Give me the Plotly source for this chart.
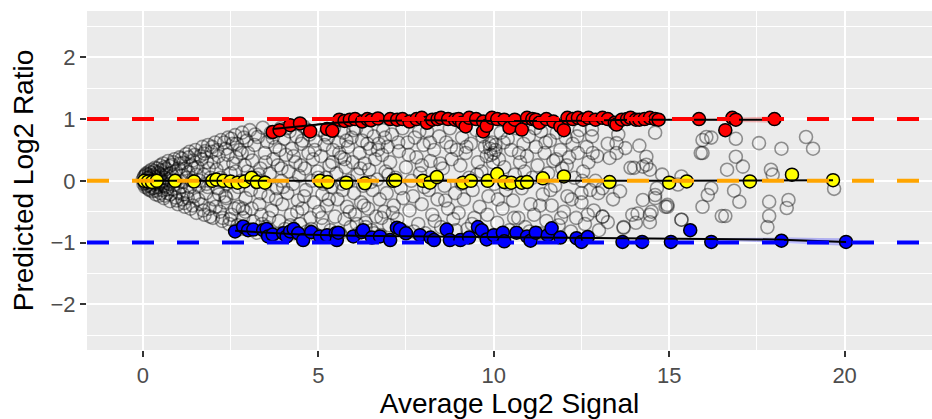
import plotly.graph_objects as go

# ---------------- data ----------------
# gray open circles (all features), grouped by signal range
gray_x_low = [0.00,0.02,0.05,0.07,0.10,0.12,0.14,0.16,0.18,0.20,0.22,0.25,0.27,0.30,0.32,0.35,0.37,0.40,0.42,0.45,
              0.47,0.50,0.52,0.55,0.58,0.60,0.63,0.66,0.70,0.72,0.75,0.78,0.80,0.83,0.86,0.90,0.93,0.96,1.00,1.02,
              1.05,1.08,1.10,1.13,1.16,1.20,1.23,1.26,1.30,1.33,1.36,1.40,1.43,1.46,1.50,1.53,1.56,1.60,1.63,1.66,
              1.70,1.73,1.76,1.80,1.83,1.86,1.90,1.93,1.96,2.00,2.03,2.06,2.10,2.13,2.16,2.20,2.23,2.26,2.30,2.33,
              2.36,2.40,2.43,2.46,2.50,2.53,2.56,2.60,2.63,2.66,2.70,2.73,2.76,2.80,2.83,2.86,2.90,2.93,2.96,3.00,
              3.00,0.15,0.30,0.45,0.65,0.85,1.25,1.45,1.85,2.25,2.65,0.08,0.55,1.15,1.75,2.35,2.85]
gray_y_low = [0.02,-0.05,0.08,-0.10,0.12,-0.02,0.05,-0.13,0.15,-0.08,0.00,0.18,-0.17,0.09,-0.11,0.21,-0.22,0.03,0.14,-0.06,
              -0.24,0.25,0.10,-0.15,0.28,-0.28,0.05,0.19,-0.20,0.32,-0.05,-0.33,0.12,0.26,-0.14,0.35,-0.27,0.00,-0.38,0.20,
              0.38,-0.10,0.08,-0.30,0.29,-0.42,0.43,-0.18,0.14,0.47,-0.45,0.00,0.33,-0.25,0.50,-0.52,0.22,-0.08,0.40,-0.38,
              0.55,0.10,-0.55,-0.20,0.30,0.58,-0.45,0.05,0.47,-0.60,-0.30,0.62,0.18,-0.12,0.40,-0.50,0.66,-0.65,0.28,-0.35,
              0.52,-0.05,0.70,-0.70,0.12,-0.55,0.60,-0.20,0.74,0.38,-0.72,-0.42,0.50,0.00,0.78,-0.60,0.25,-0.28,0.65,-0.78,
              0.45,0.04,-0.02,0.07,-0.10,0.08,0.05,0.20,-0.10,0.00,0.15,-0.04,-0.02,-0.22,0.44,-0.25,-0.45]

gray_x_low2 = [0.03,0.06,0.09,0.11,0.13,0.17,0.19,0.21,0.23,0.24,0.28,0.29,0.33,0.34,0.36,0.38,0.41,0.43,0.46,0.48,
               0.51,0.53,0.56,0.59,0.61,0.64,0.67,0.69,0.73,0.76,0.79,0.82,0.87,0.89,0.94,0.97,1.03,1.07,1.11,1.14,
               1.18,1.22,1.28,1.31,1.35,1.38,1.42,1.48,1.52,1.58,1.62,1.68,1.72,1.78,1.82,1.88,1.92,1.98,2.02,2.08,
               2.12,2.18,2.22,2.28,2.32,2.38,2.42,2.48,2.52,2.58,2.62,2.68,2.72,2.78,2.82,2.88,2.92,2.98]
gray_y_low2 = [0.06,-0.03,0.10,-0.08,0.00,0.10,-0.15,0.07,-0.05,0.13,0.00,-0.12,0.16,-0.04,0.06,-0.16,0.20,-0.10,0.12,-0.02,
               -0.20,0.17,0.00,-0.08,0.22,-0.24,0.10,-0.14,0.02,0.24,-0.22,0.00,0.30,-0.06,0.16,-0.32,-0.20,0.28,0.36,-0.02,
               -0.36,0.20,-0.28,0.38,-0.10,0.25,-0.40,0.42,0.10,-0.30,0.00,0.35,-0.48,0.48,-0.05,0.20,-0.58,0.55,0.30,-0.42,
               0.50,-0.22,0.05,-0.60,0.62,-0.28,0.42,-0.62,0.68,0.28,-0.45,0.60,-0.10,-0.78,0.45,0.70,-0.50,0.15]

gray_x_mid = [3.05,3.08,3.12,3.15,3.18,3.22,3.25,3.28,3.32,3.35,3.38,3.42,3.45,3.48,3.52,3.55,3.58,3.62,3.65,3.68,
              3.72,3.75,3.78,3.82,3.85,3.88,3.92,3.95,3.98,4.02,4.05,4.08,4.12,4.15,4.18,4.22,4.25,4.28,4.32,4.35,
              4.38,4.42,4.45,4.48,4.52,4.55,4.58,4.62,4.65,4.68,4.72,4.75,4.78,4.82,4.85,4.88,4.92,4.95,4.98,5.02,
              5.05,5.08,5.12,5.15,5.18,5.22,5.25,5.28,5.32,5.35,5.38,5.42,5.45,5.48,5.52,5.55,5.58,5.62,5.65,5.68,
              5.72,5.75,5.78,5.82,5.85,5.88,5.92,5.95,5.98,6.02,6.05,6.08,6.12,6.15,6.18,6.22,6.25,6.28,6.32,6.35,
              6.38,6.42,6.45,6.48,6.52,6.55,6.58,6.62,6.65,6.68,6.72,6.75,6.78,6.82,6.85,6.88,6.92,6.95,6.98,7.02,
              7.05,7.10,7.15,7.20,7.25,7.30,7.35,7.40,7.45,7.50,7.55,7.60,7.65,7.70,7.75,7.80,7.85,7.90,7.95,8.00,
              8.05,8.10,8.15,8.20,8.25,8.30,8.35,8.40,8.45,8.50,8.55,8.60,8.65,8.70,8.75,8.80,8.85,8.90,8.95]
gray_y_mid = [0.82,-0.15,0.33,-0.66,0.58,0.05,-0.84,0.71,-0.38,0.20,-0.55,0.86,-0.02,0.45,-0.75,0.63,-0.25,0.12,0.78,-0.48,
              0.35,-0.86,0.55,-0.12,0.25,-0.65,0.85,0.00,-0.38,0.68,-0.78,0.42,-0.20,0.15,0.80,-0.55,0.52,-0.05,-0.85,0.30,
              0.72,-0.32,0.08,-0.70,0.60,-0.45,0.88,0.20,-0.15,-0.82,0.45,0.75,-0.60,0.00,0.35,-0.35,0.65,-0.88,0.15,-0.50,
              0.82,0.40,-0.22,-0.72,0.58,0.05,-0.40,0.70,0.25,-0.80,-0.10,0.50,0.85,-0.58,0.12,-0.30,0.62,-0.85,0.38,-0.05,
              0.78,-0.62,0.22,-0.42,0.55,0.00,-0.75,0.70,0.30,-0.20,-0.55,0.85,0.10,-0.85,0.45,-0.35,0.65,-0.08,0.28,-0.68,
              0.80,-0.45,0.18,0.52,-0.80,-0.15,0.72,0.35,-0.58,0.02,0.60,-0.30,-0.88,0.42,0.82,-0.50,0.15,-0.20,0.55,-0.72,
              0.30,0.75,-0.40,0.05,-0.62,0.48,-0.12,0.85,-0.82,0.22,0.62,-0.48,0.00,-0.25,0.70,0.38,-0.70,0.12,-0.38,0.58,
              -0.85,0.80,-0.15,0.32,-0.55,0.50,0.05,-0.30,0.72,-0.75,0.20,-0.08,0.62,-0.45,0.85,0.35,-0.62,-0.20,0.50]

gray_x_mid2 = [3.10,3.20,3.30,3.40,3.50,3.60,3.70,3.80,3.90,4.00,4.10,4.20,4.30,4.40,4.50,4.60,4.70,4.80,4.90,5.00,
               5.10,5.20,5.30,5.40,5.50,5.60,5.70,5.80,5.90,6.00,6.10,6.20,6.30,6.40,6.50,6.60,6.70,6.80,6.90,7.00,
               7.12,7.28,7.42,7.58,7.72,7.88,8.02,8.18,8.32,8.48,8.62,8.78,8.92,3.35,3.95,4.55,5.15,5.75,6.35,7.95]
gray_y_mid2 = [-0.45,0.75,0.10,-0.70,0.30,-0.60,0.70,-0.30,0.50,-0.10,0.85,-0.72,0.40,-0.50,0.25,-0.25,0.82,-0.78,0.50,0.05,
               -0.60,0.75,-0.30,0.30,-0.88,0.45,-0.15,0.65,-0.50,0.82,-0.70,0.20,-0.40,0.60,-0.02,-0.85,0.50,-0.60,0.70,0.10,
               -0.52,0.62,-0.28,0.42,-0.82,0.80,-0.10,0.62,-0.65,0.28,-0.32,0.55,-0.80,-0.20,0.20,0.65,-0.05,0.35,-0.75,0.25]

gray_x_high = [9.00,9.05,9.10,9.15,9.20,9.25,9.30,9.35,9.40,9.45,9.50,9.55,9.60,9.65,9.70,9.75,9.80,9.85,9.90,9.95,
               10.00,10.02,10.05,10.10,10.15,10.20,10.25,10.30,10.35,10.40,10.45,10.50,10.55,10.60,10.65,10.70,10.75,10.80,10.85,10.90,
               10.95,11.00,11.05,11.10,11.15,11.20,11.25,11.30,11.35,11.40,11.45,11.50,11.55,11.60,11.65,11.70,11.75,11.80,11.85,11.90,
               11.95,12.00,12.05,12.10,12.15,12.20,12.25,12.30,12.35,12.40,12.45,12.50,12.55,12.60,12.65,12.70,12.75,12.80,12.85,12.90,
               12.95,13.00,9.08,9.22,9.38,9.52,9.68,9.82,9.98,10.12,10.28,10.42,10.58,10.72,10.88,11.02,11.18,11.32,11.48,11.62,
               11.78,11.92,12.08,12.22,12.38,12.52,12.68,12.82,12.98,9.92,10.05,9.88]
gray_y_high = [-0.52,0.25,0.70,-0.30,0.45,-0.78,0.05,0.60,-0.15,-0.60,0.82,0.30,-0.42,0.15,-0.85,0.55,0.40,-0.25,0.52,0.62,
               0.45,-0.05,0.58,-0.68,0.35,0.78,-0.45,0.22,-0.15,0.68,-0.80,0.50,-0.32,0.10,0.85,-0.60,0.30,-0.12,0.60,-0.75,
               0.40,0.72,-0.38,0.05,-0.55,0.55,0.25,-0.85,0.80,-0.22,0.45,-0.65,0.12,0.65,-0.40,0.32,-0.08,0.78,-0.72,0.50,
               0.20,-0.50,0.70,-0.25,0.38,-0.82,0.60,0.05,-0.60,0.45,0.82,-0.35,0.15,-0.70,0.55,0.30,-0.15,0.72,-0.48,0.00,
               0.40,-0.80,-0.05,0.55,-0.70,0.10,0.72,-0.55,0.30,-0.30,0.62,-0.05,-0.60,0.45,0.15,-0.82,0.85,-0.40,0.62,-0.15,
               0.35,-0.60,0.25,-0.30,0.72,0.00,-0.55,0.45,-0.20,0.42,0.50,0.60]

gray_x_tail = [13.10,13.25,13.40,13.50,13.55,13.60,13.70,13.90,14.05,14.10,14.15,14.25,14.25,14.35,14.45,14.50,14.60,14.60,14.80,14.90,
               14.95,15.25,15.35,15.35,15.90,15.95,15.95,16.10,16.20,16.20,16.50,16.65,16.60,16.85,16.90,16.90,17.00,17.10,17.56,17.80,
               17.85,17.85,17.90,17.95,18.20,18.35,18.40,18.90,19.10,19.70,12.80,13.50,13.30,13.75,14.35,14.45,16.06,15.95,12.50,13.10,
               14.00,14.60,14.65,14.95,15.35,13.10,13.25,13.70,14.45,13.95]
gray_y_tail = [-0.58,0.60,-0.30,0.45,0.75,-0.17,-0.75,0.21,-0.68,-0.53,0.57,0.23,-0.31,0.39,-0.55,-0.50,0.78,-0.23,0.10,-0.42,
               -0.39,-0.06,0.07,-0.63,0.45,0.66,-0.42,-0.23,0.70,-0.12,-0.57,0.18,-0.57,-0.16,0.68,0.39,-0.34,0.23,0.61,-0.75,
               -0.34,-0.57,0.18,0.10,0.52,-0.44,-0.31,0.71,0.52,-0.13,0.83,0.61,0.37,0.53,0.26,0.18,0.71,0.45,-0.20,-0.12,
               0.21,-0.28,-0.12,-0.42,-0.63,-0.58,-0.67,-0.76,-0.67,-0.55]

# significant features
red_x = [3.70,3.90,4.20,4.48,4.77,5.25,5.40,5.60,5.75,5.90,6.05,6.25,6.40,6.50,6.70,7.05,7.25,7.40,7.60,7.80,
         7.95,8.10,8.25,8.40,8.50,8.70,8.90,9.00,9.10,9.20,9.30,9.50,9.70,9.70,9.80,9.95,10.10,10.30,10.45,10.60,
         10.80,10.95,11.10,11.20,11.30,11.50,11.70,11.90,12.00,12.10,12.25,12.40,12.55,12.70,12.90,13.10,13.25,13.45,13.50,13.65,
         13.80,13.90,14.05,14.15,14.30,14.45,14.60,14.70,15.85,16.60,16.80,16.90,18.00]
red_y = [0.79,0.82,0.90,0.93,0.80,0.84,0.81,0.99,0.97,0.99,1.00,0.96,1.00,0.98,1.01,1.00,0.99,1.00,0.96,1.00,
         1.02,0.94,0.99,1.00,1.02,1.00,0.99,1.00,0.94,0.88,1.02,1.00,0.96,0.80,0.89,1.02,1.00,0.99,0.86,0.99,
         0.83,1.02,1.00,0.99,0.94,1.00,0.96,0.88,0.82,1.02,1.00,1.02,0.99,1.02,0.99,1.02,1.00,0.94,0.91,0.99,
         1.00,1.02,0.99,0.99,1.00,1.02,1.00,0.99,1.00,0.82,1.02,0.99,1.00]

yellow_x = [0.04,0.15,0.26,0.40,0.92,1.46,1.98,2.10,2.30,2.50,2.70,2.90,3.10,3.25,3.48,5.05,5.27,5.80,6.33,7.13,
            7.20,7.98,8.18,8.38,9.12,9.35,9.83,10.10,10.30,10.50,10.80,10.95,11.40,12.00,13.30,15.00,15.50,17.30,18.50,19.67]
yellow_y = [0.00,-0.01,-0.02,0.00,0.00,-0.01,0.00,0.02,0.00,-0.01,-0.03,-0.01,0.05,-0.02,-0.03,0.00,-0.02,-0.03,-0.04,0.00,
            0.01,0.00,-0.03,0.06,-0.03,0.00,0.00,0.11,-0.02,-0.03,-0.03,-0.02,0.04,0.07,-0.02,-0.03,-0.01,-0.01,0.10,0.01]

blue_x = [2.63,2.86,3.00,3.15,3.43,3.53,3.57,3.70,4.00,4.10,4.20,4.30,4.43,4.57,4.80,5.05,5.25,5.50,5.53,5.57,
          6.00,6.24,6.28,6.53,6.76,7.05,7.24,7.33,7.50,7.90,8.20,8.30,8.66,8.75,9.05,9.30,9.55,9.66,9.80,10.00,
          10.26,10.30,10.65,10.95,11.05,11.20,11.54,11.65,11.90,12.36,12.50,12.68,13.67,14.23,15.05,15.60,16.20,18.20,20.04]
blue_y = [-0.82,-0.74,-0.80,-0.79,-0.80,-0.78,-0.90,-0.87,-0.85,-0.90,-0.82,-0.78,-0.85,-0.96,-0.83,-0.90,-0.88,-0.85,-0.96,-0.84,
          -0.90,-0.83,-0.80,-0.92,-0.90,-0.96,-0.76,-0.78,-0.85,-0.88,-0.92,-0.96,-0.79,-0.96,-0.96,-0.92,-0.75,-0.80,-0.95,-0.88,
          -0.84,-0.98,-0.84,-0.90,-0.97,-0.84,-0.88,-0.77,-0.92,-0.93,-0.99,-0.91,-0.99,-0.99,-0.99,-0.80,-0.99,-0.97,-0.99]

# smoothed trend per group
red_fit_x = [3.70,4.20,4.80,5.50,6.50,8.00,10.00,12.00,14.00,16.00,18.00]
red_fit_y = [0.84,0.87,0.90,0.94,0.97,0.98,0.97,0.97,0.99,0.99,0.99]
yellow_fit_x = [0.04,2.00,5.00,10.00,15.00,19.67]
yellow_fit_y = [0.00,0.00,-0.01,0.00,0.00,0.01]
blue_fit_x = [2.63,3.50,4.50,6.00,8.00,10.00,12.00,14.00,16.00,18.00,20.04]
blue_fit_y = [-0.81,-0.84,-0.87,-0.89,-0.90,-0.91,-0.93,-0.94,-0.94,-0.95,-0.99]

# confidence bands (visible only in the sparse tail)
red_band_x = [15.80,16.50,17.20,18.00]
red_band_hi = [1.00,1.02,1.03,1.04]
red_band_lo = [0.98,0.96,0.95,0.94]
blue_band_x = [15.50,16.50,17.50,18.50,19.30,20.04]
blue_band_hi = [-0.93,-0.925,-0.92,-0.92,-0.925,-0.93]
blue_band_lo = [-0.95,-0.97,-0.99,-1.01,-1.03,-1.05]

ref_levels = [1, 0, -1]
ref_colors = ["#FF0000", "#FFA500", "#0000FF"]

x_ticks = [0, 5, 10, 15, 20]
y_ticks = [-2, -1, 0, 1, 2]

# ---------------- figure ----------------
fig = go.Figure()

gray_marker = dict(symbol="circle-open", size=13, color="rgba(0,0,0,0.4)", line=dict(width=1.6))
for gx, gy in [(gray_x_low, gray_y_low), (gray_x_low2, gray_y_low2), (gray_x_mid, gray_y_mid),
               (gray_x_mid2, gray_y_mid2), (gray_x_high, gray_y_high), (gray_x_tail, gray_y_tail)]:
    fig.add_trace(go.Scatter(x=gx, y=gy, mode="markers", marker=gray_marker,
                             showlegend=False, hoverinfo="skip"))

def band(xs, hi, lo, color):
    fig.add_trace(go.Scatter(x=xs + xs[::-1], y=hi + lo[::-1], fill="toself",
                             fillcolor=color, line=dict(width=0), mode="lines",
                             showlegend=False, hoverinfo="skip"))

band(red_band_x, red_band_hi, red_band_lo, "rgba(255,0,0,0.25)")
band(blue_band_x, blue_band_hi, blue_band_lo, "rgba(0,0,255,0.25)")

for xs, ys, c in [(red_x, red_y, "#FF0000"), (yellow_x, yellow_y, "#FFFF00"), (blue_x, blue_y, "#0000FF")]:
    fig.add_trace(go.Scatter(x=xs, y=ys, mode="markers",
                             marker=dict(symbol="circle", size=13, color=c,
                                         line=dict(color="black", width=1.5)),
                             showlegend=False))

for xs, ys in [(red_fit_x, red_fit_y), (yellow_fit_x, yellow_fit_y), (blue_fit_x, blue_fit_y)]:
    fig.add_trace(go.Scatter(x=xs, y=ys, mode="lines", line=dict(color="black", width=2),
                             showlegend=False))

for lvl, c in zip(ref_levels, ref_colors):
    fig.add_shape(type="line", xref="paper", x0=0, x1=1, yref="y", y0=lvl, y1=lvl,
                  line=dict(color=c, width=4, dash="22px,23px"), layer="above")

axis_common = dict(
    showgrid=True, gridcolor="white", gridwidth=2, zeroline=False,
    showline=False, ticks="outside", ticklen=6, tickwidth=2, tickcolor="#333333",
    tickfont=dict(family="Liberation Sans, Arial, sans-serif", size=22, color="#4D4D4D"),
)

fig.update_layout(
    width=932, height=419,
    margin=dict(l=87, r=0, t=11, b=69),
    paper_bgcolor="white", plot_bgcolor="#EBEBEB",
    font=dict(family="Liberation Sans, Arial, sans-serif"),
    xaxis=dict(range=[-1.59, 22.49], tickvals=x_ticks, **axis_common,
               minor=dict(dtick=2.5, tick0=0, showgrid=True, gridcolor="white", gridwidth=1, ticks=""),
               title=dict(text="Average Log2 Signal", standoff=6,
                          font=dict(size=28, color="black"))),
    yaxis=dict(range=[-2.74, 2.75], tickvals=y_ticks, **axis_common,
               minor=dict(dtick=0.5, tick0=0, showgrid=True, gridcolor="white", gridwidth=1, ticks=""),
               title=dict(text="Predicted Log2 Ratio", standoff=8,
                          font=dict(size=28, color="black"))),
)

fig.write_html("out.html")
